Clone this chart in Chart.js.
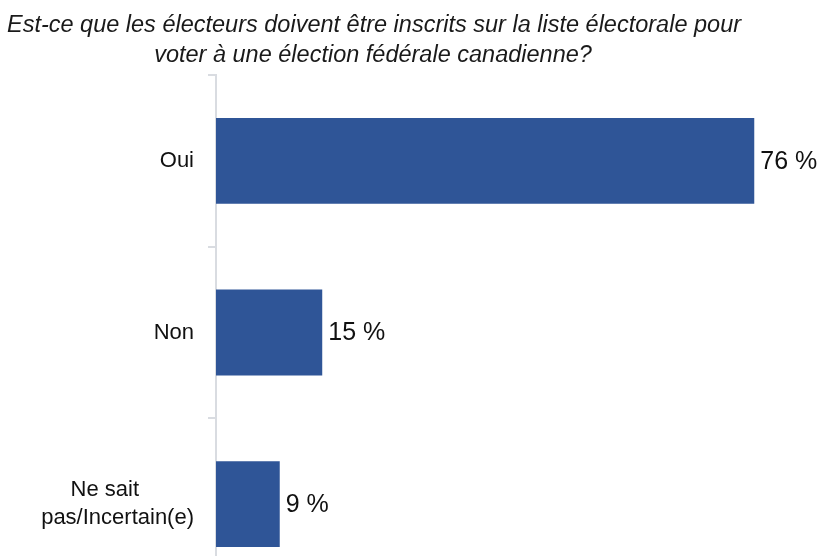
<!DOCTYPE html>
<html><head><meta charset="utf-8">
<script src="https://cdn.jsdelivr.net/npm/chart.js@4"></script>
<style>html,body{margin:0;padding:0;overflow:hidden;background:#fff}#wrap{width:818px;height:590px}</style>
</head><body><div id="wrap"><canvas id="c" width="818" height="590"></canvas></div>
<script>
const titleLines = ["Est-ce que les électeurs doivent être inscrits sur la liste électorale pour", "voter à une élection fédérale canadienne?"];
const categories = ["Oui", "Non", ["Ne sait         ", "pas/Incertain(e)"]];
const values = [76, 15, 9];
const valueLabels = ["76 %", "15 %", "9 %"];

const titlePlugin = {
  id: 'customTitle',
  afterDraw(chart) {
    const ctx = chart.ctx;
    ctx.save();
    ctx.fillStyle = '#1a1a1a';
    ctx.font = 'italic 23.5px "Liberation Sans Narrow", "Liberation Sans", sans-serif';
    ctx.textAlign = 'center';
    ctx.textBaseline = 'alphabetic';
    ctx.fillText(titleLines[0], 374, 32);
    ctx.fillText(titleLines[1], 373, 62);
    ctx.restore();
  }
};
const labelPlugin = {
  id: 'valueLabels',
  afterDatasetsDraw(chart) {
    const ctx = chart.ctx;
    const meta = chart.getDatasetMeta(0);
    ctx.save();
    ctx.fillStyle = '#111';
    ctx.font = '25px "Liberation Sans", Arial, sans-serif';
    ctx.textAlign = 'left';
    ctx.textBaseline = 'middle';
    meta.data.forEach((bar, i) => {
      ctx.fillText(valueLabels[i], bar.x + 6, bar.y + 1);
    });
    ctx.restore();
  }
};

new Chart(document.getElementById('c'), {
  type: 'bar',
  data: {
    labels: categories,
    datasets: [{
      data: values,
      backgroundColor: '#2F5597',
      borderWidth: 0,
      categoryPercentage: 1,
      barPercentage: 0.5
    }]
  },
  options: {
    indexAxis: 'y',
    responsive: false,
    animation: false,
    layout: { padding: { top: 75, left: 0, right: 0, bottom: 0 } },
    plugins: { legend: { display: false }, tooltip: { enabled: false }, title: { display: false } },
    scales: {
      x: { display: false, min: 0, max: 85 },
      y: {
        afterFit(scale) { scale.width = 216; scale.paddingTop = 0; scale.paddingBottom = 0; },
        grid: { offset: true, drawOnChartArea: false, drawTicks: true, tickLength: 8, color: '#d9dce1', lineWidth: 2 },
        border: { display: true, color: '#d9dce1', width: 2 },
        ticks: { color: '#111', padding: 14, font: { family: '"Liberation Sans", Arial, sans-serif', size: 22, lineHeight: 1.25 } }
      }
    }
  },
  plugins: [titlePlugin, labelPlugin]
});
</script></body></html>
